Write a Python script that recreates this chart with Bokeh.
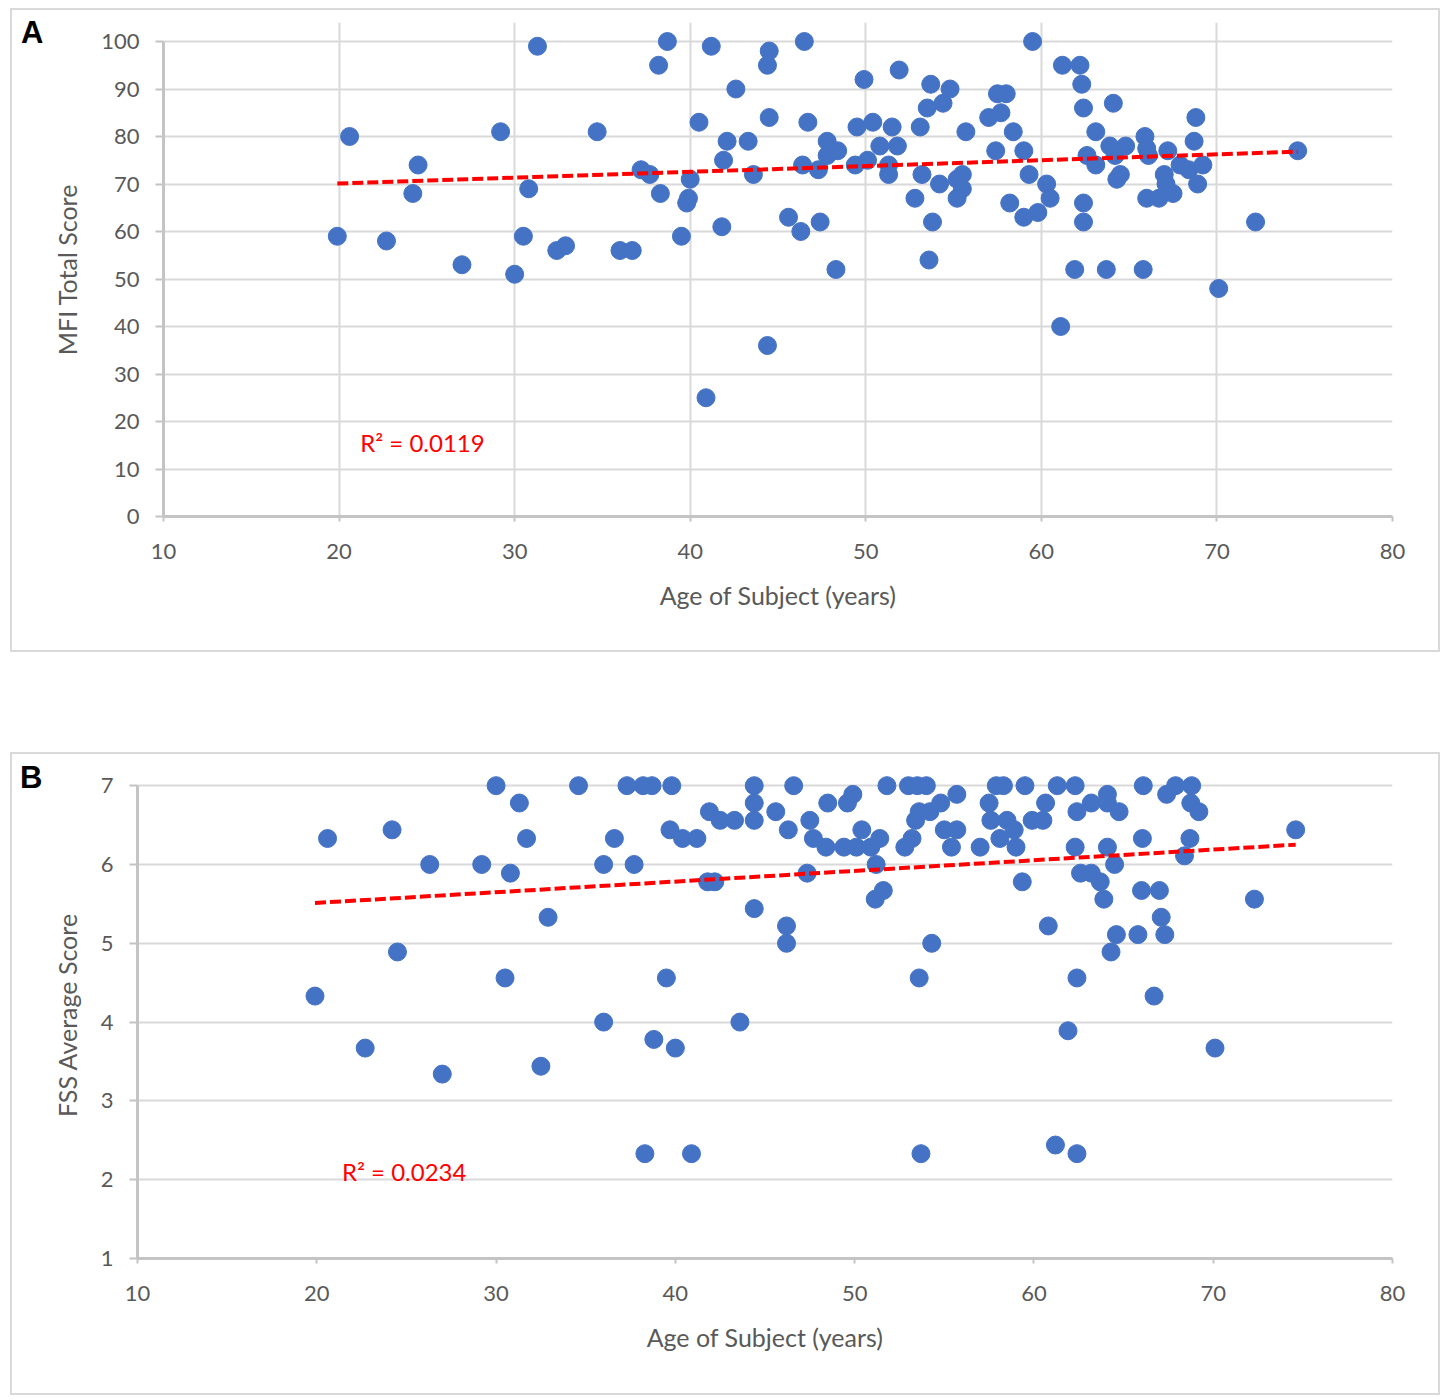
from bokeh.plotting import figure
from bokeh.layouts import column
from bokeh.models import Range1d, SingleIntervalTicker, FixedTicker, LinearAxis, Label
from bokeh.embed import file_html
from bokeh.resources import INLINE

# panel A: age vs MFI total score
age_a = [19.9, 20.6, 22.7, 24.5, 24.2, 27.0, 29.2, 30.0, 30.5, 30.8, 31.3, 32.4, 32.9, 34.7,
         36.0, 36.7, 37.2, 37.7, 38.2, 38.3, 38.7, 39.5, 39.8, 39.9, 40.0, 40.5, 40.9, 41.2,
         41.8, 41.9, 42.1, 42.6, 43.3, 43.6, 44.4, 44.4, 44.5, 44.5, 45.6, 46.3, 46.5, 46.4,
         46.7, 47.3, 47.4, 47.8, 48.4, 47.8, 48.3, 49.4, 49.5, 49.9, 50.1, 50.4, 50.8, 51.3,
         51.3, 51.5, 51.8, 51.9, 52.8, 53.1, 53.2, 53.5, 53.6, 53.7, 53.8, 54.2, 54.4, 54.8,
         55.2, 55.5, 55.5, 55.2, 55.7, 57.0, 57.4, 57.5, 57.7, 58.0, 58.2, 58.4, 59.0, 59.0,
         59.3, 59.5, 59.8, 60.3, 60.5, 61.1, 61.2, 61.9, 62.2, 62.3, 62.4, 62.4, 62.4, 62.6,
         63.1, 63.1, 63.7, 63.9, 64.1, 64.2, 64.3, 64.5, 64.8, 65.8, 65.9, 66.0, 66.0, 66.1,
         66.7, 67.0, 67.1, 67.2, 67.5, 67.9, 68.4, 68.7, 68.8, 68.9, 69.2, 70.1, 72.2, 74.6]
mfi = [59, 80, 58, 74, 68, 53, 81, 51, 59, 69, 99, 56, 57, 81,
       56, 56, 73, 72, 95, 68, 100, 59, 66, 67, 71, 83, 25, 99,
       61, 75, 79, 90, 79, 72, 36, 95, 98, 84, 63, 60, 100, 74,
       83, 73, 62, 79, 77, 76, 52, 74, 82, 92, 75, 83, 78, 74,
       72, 82, 78, 94, 67, 82, 72, 86, 54, 91, 62, 70, 87, 90,
       71, 72, 69, 67, 81, 84, 77, 89, 85, 89, 66, 81, 77, 63,
       72, 100, 64, 70, 67, 40, 95, 52, 95, 91, 86, 66, 62, 76,
       81, 74, 52, 78, 87, 76, 71, 72, 78, 52, 80, 77.5, 67, 76,
       67, 72, 70, 77, 68, 74, 73, 79, 84, 70, 74, 48, 62, 77]

# panel B: age vs FSS average score
age_b = [19.9, 20.6, 22.7, 24.2, 24.5, 26.3, 27.0, 29.2, 30.0, 30.5, 30.8, 31.3, 31.7, 32.5,
         32.9, 34.6, 36.0, 36.0, 36.6, 37.3, 37.7, 38.2, 38.3, 38.7, 38.8, 39.5, 39.7, 39.8,
         40.0, 40.4, 40.9, 41.2, 41.8, 41.9, 42.2, 42.5, 43.3, 43.6, 44.4, 44.4, 44.4, 44.4,
         45.6, 46.2, 46.2, 46.3, 46.6, 47.35, 47.5, 47.7, 48.4, 48.5, 49.4, 49.6, 49.9, 50.1,
         50.4, 50.9, 51.15, 51.2, 51.4, 51.6, 51.8, 52.8, 53.0, 53.2, 53.4, 53.5, 53.6, 53.6,
         53.7, 54.0, 54.2, 54.3, 54.8, 55.0, 55.4, 55.7, 55.7, 57.0, 57.5, 57.6, 57.9, 58.1,
         58.3, 58.5, 58.9, 59.0, 59.35, 59.5, 59.9, 60.5, 60.65, 60.8, 61.2, 61.3, 61.9, 62.3,
         62.3, 62.4, 62.4, 62.4, 62.6, 63.2, 63.2, 63.7, 63.9, 64.1, 64.1, 64.1, 64.3, 64.5,
         64.6, 64.75, 65.8, 66.0, 66.05, 66.1, 66.7, 67.0, 67.1, 67.3, 67.4, 67.9, 68.4, 68.7,
         68.75, 68.8, 69.2, 70.1, 72.3, 74.6]
fss = [4.33, 6.33, 3.67, 6.44, 4.89, 6.0, 3.34, 6.0, 7.0, 4.56, 5.89, 6.78, 6.33, 3.44,
       5.33, 7.0, 6.0, 4.0, 6.33, 7.0, 6.0, 7.0, 2.33, 7.0, 3.78, 4.56, 6.44, 7.0,
       3.67, 6.33, 2.33, 6.33, 5.78, 6.67, 5.78, 6.56, 6.56, 4.0, 7.0, 6.78, 6.56, 5.44,
       6.67, 5.22, 5.0, 6.44, 7.0, 5.89, 6.56, 6.33, 6.22, 6.78, 6.22, 6.78, 6.89, 6.22,
       6.44, 6.22, 5.56, 6.0, 6.33, 5.67, 7.0, 6.22, 7.0, 6.33, 6.56, 7.0, 6.67, 4.56,
       2.33, 7.0, 6.67, 5.0, 6.78, 6.44, 6.22, 6.89, 6.44, 6.22, 6.78, 6.56, 7.0, 6.33,
       7.0, 6.56, 6.44, 6.22, 5.78, 7.0, 6.56, 6.56, 6.78, 5.22, 2.44, 7.0, 3.89, 7.0,
       6.22, 6.67, 4.56, 2.33, 5.89, 6.78, 5.89, 5.78, 5.56, 6.89, 6.78, 6.22, 4.89, 6.0,
       5.11, 6.67, 5.11, 5.67, 6.33, 7.0, 4.33, 5.67, 5.33, 5.11, 6.89, 7.0, 6.11, 6.33,
       6.78, 7.0, 6.67, 3.67, 5.56, 6.44]

# linear trendlines (slope, intercept) and R² as shown
trend_a = (0.1227, 67.65)
trend_b = (0.01353, 5.242)
r2_a = "R² = 0.0119"
r2_b = "R² = 0.0234"

FONT = "Lato"
GREY = "#595959"
GRID = "#d9d9d9"
AXIS = "#c4c4c4"
BLUE = "#4472c4"
RED = "#ff0000"


def make_panel(ages, scores, trend, r2, letter, letter_y, y_title, y_lo, y_hi, y_pad,
               y_step, height, border_left, border_top, border_bottom, margin_top, r2_pos):
    # range goes a bit past the top tick so that the markers at the max are not clipped
    p = figure(width=1430, height=height, output_backend="svg", toolbar_location=None,
               x_range=Range1d(10, 80), y_range=Range1d(y_lo, y_hi + y_pad),
               min_border_left=border_left, min_border_right=50,
               min_border_top=border_top, min_border_bottom=border_bottom)
    try:
        p.frame_align = False
    except AttributeError:
        pass
    p.styles = {"border": "2px solid " + GRID, "margin-left": "10px",
                "margin-top": margin_top}
    p.outline_line_color = None

    p.xaxis.ticker = SingleIntervalTicker(interval=10, num_minor_ticks=0)
    p.yaxis.ticker = SingleIntervalTicker(interval=y_step, num_minor_ticks=0)
    p.yaxis.bounds = (y_lo, y_hi)
    p.grid.grid_line_color = GRID
    p.grid.grid_line_width = 2
    p.xgrid.bounds = (y_lo, y_hi)

    for ax in (p.xaxis, p.yaxis):
        ax.axis_line_color = AXIS
        ax.axis_line_width = 3
        ax.major_tick_line_color = AXIS
        ax.major_tick_line_width = 2
        ax.major_tick_in = 0
        ax.minor_tick_line_color = None
        ax.major_label_text_font = FONT
        ax.major_label_text_font_size = "22px"
        ax.major_label_text_color = GREY
        ax.axis_label_text_font = FONT
        ax.axis_label_text_font_size = "25px"
        ax.axis_label_text_font_style = "normal"
        ax.axis_label_text_color = GREY
    p.xaxis.major_tick_out = 5
    p.yaxis.major_tick_out = 8
    p.xaxis.major_label_standoff = 22
    p.yaxis.major_label_standoff = 16
    p.xaxis.axis_label = "Age of Subject (years)"
    p.yaxis.axis_label = y_title
    p.xaxis.axis_label_standoff = 18
    p.yaxis.axis_label_standoff = 16

    # panel letter: a bare outer axis whose single tick label is the letter
    tag = LinearAxis(ticker=FixedTicker(ticks=[letter_y]),
                     major_label_overrides={letter_y: letter},
                     axis_line_color=None, major_tick_line_color=None,
                     minor_tick_line_color=None, major_tick_out=0, major_tick_in=0,
                     major_label_standoff=6, major_label_text_color="black",
                     major_label_text_font="Liberation Sans",
                     major_label_text_font_size="31px",
                     major_label_text_font_style="bold")
    p.add_layout(tag, "left")

    p.scatter(ages, scores, size=18, color=BLUE)

    slope, icpt = trend
    xs = [min(ages), max(ages)]
    p.line(xs, [slope * v + icpt for v in xs], line_color=RED, line_width=4,
           line_dash="11 4")

    p.add_layout(Label(x=r2_pos[0], y=r2_pos[1], text=r2, text_color=RED,
                       text_font=FONT, text_font_size="24px", text_baseline="middle"))
    return p


pa = make_panel(age_a, mfi, trend_a, r2_a, "A", 102, "MFI Total Score", 0, 100, 4, 10,
                644, 151, 12, 138, "8px", (21.2, 15.6))
pb = make_panel(age_b, fss, trend_b, r2_b, "B", 7.1, "FSS Average Score", 1, 7, 0.18, 1,
                643, 125, 17, 139, "0px", (21.4, 2.11))

layout = column(pa, pb, spacing=100)
open("out.html", "w").write(file_html(layout, INLINE))
